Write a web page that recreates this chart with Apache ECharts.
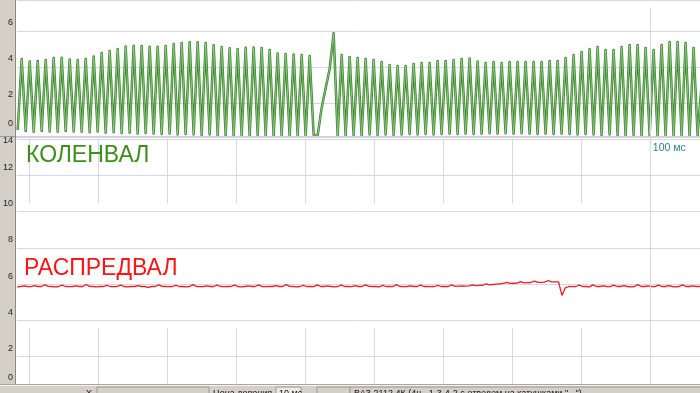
<!DOCTYPE html>
<html><head><meta charset="utf-8">
<script src="https://cdn.jsdelivr.net/npm/echarts@6/dist/echarts.min.js"></script>
<style>html,body{margin:0;padding:0;background:#fff}#c{width:700px;height:393px}</style>
</head><body><div id="c"></div>
<script>
// ---- data ----
const crankStartMs = 8.32;   // time of first crank sample
const crankStepMs = 0.58;    // sample spacing (half tooth period)
const crankValues = [
  0.5,
  4.44,0.45, 4.31,0.40, 4.33,0.45, 4.39,0.42, 4.50,0.40, 4.52,0.45, 4.42,0.42, 4.39,0.40, 4.44,0.38, 4.58,0.42,
  4.78,0.35, 4.89,0.38, 5.00,0.33, 5.14,0.35, 5.18,0.30, 5.16,0.33, 5.13,0.30, 5.13,0.28, 5.17,0.30, 5.28,0.25,
  5.34,0.28, 5.37,0.25, 5.37,0.22, 5.33,0.25, 5.21,0.20, 5.11,0.22, 5.04,0.20, 5.00,0.18, 5.07,0.20, 5.08,0.22,
  5.06,0.18, 4.94,0.20, 4.75,0.18, 4.72,0.15, 4.69,0.18, 4.67,0.15,
  4.61,
  0.22, 0.20, 1.73, 2.82, 3.89, 5.87, 0.20,
  4.67,0.20, 4.56,0.22, 4.50,0.20, 4.44,0.25, 4.39,0.22, 4.28,0.25, 4.11,0.22, 4.06,0.25, 4.06,0.28, 4.17,0.25,
  4.22,0.28, 4.22,0.25, 4.33,0.28, 4.33,0.30, 4.39,0.28, 4.44,0.30, 4.47,0.28, 4.31,0.30, 4.22,0.32, 4.28,0.30,
  4.22,0.32, 4.28,0.30, 4.28,0.32, 4.28,0.30, 4.28,0.28, 4.28,0.30, 4.33,0.28, 4.33,0.30, 4.50,0.28, 4.67,0.25,
  4.83,0.28, 5.00,0.25, 5.11,0.22, 4.94,0.25, 4.94,0.22, 5.11,0.20, 5.22,0.22, 5.22,0.20, 5.06,0.22, 4.94,0.20,
  5.22,0.18, 5.39,0.20, 5.39,0.18, 5.33,0.20, 5.06,
  0.22, 3.0
];
const camStartMs = 8.25;
const camStepMs = 0.5;
const camValues = [
  5.85,5.87,5.90,5.87,5.86,5.92,5.87,5.87,5.96,5.88,5.87,5.85,5.87,5.94,5.87,5.86,5.87,5.90,5.87,5.87,
  5.98,5.88,5.87,5.85,5.87,5.87,5.93,5.87,5.86,5.87,5.95,5.87,5.85,5.87,5.87,5.92,5.87,5.87,5.82,5.87,
  5.87,5.96,5.88,5.87,5.86,5.87,5.93,5.87,5.87,5.85,5.87,5.97,5.87,5.86,5.87,5.90,5.87,5.87,5.94,5.87,
  5.86,5.87,5.87,5.95,5.87,5.85,5.87,5.90,5.87,5.87,5.96,5.87,5.86,5.87,5.87,5.92,5.87,5.87,5.97,5.88,
  5.87,5.85,5.87,5.93,5.87,5.87,5.86,5.96,5.87,5.87,5.90,5.87,5.85,5.87,5.95,5.87,5.87,5.86,5.92,5.87,
  5.87,5.96,5.88,5.87,5.87,5.85,5.93,5.87,5.87,5.87,5.97,5.87,5.86,5.87,5.91,5.87,5.87,5.95,5.87,5.87,
  5.86,5.87,5.93,5.87,5.88,5.87,5.96,5.88,5.89,5.90,5.89,5.90,5.96,5.92,5.93,5.94,6.02,5.96,5.98,6.00,
  6.02,6.04,6.10,6.04,6.05,6.06,6.14,6.07,6.08,6.09,6.17,6.10,6.10,6.11,6.20,6.12,6.13,6.13,5.38,5.80,
  5.87,5.86,5.87,5.94,5.87,5.87,5.85,5.96,5.87,5.87,5.90,5.87,5.86,5.95,5.87,5.87,5.92,5.87,5.85,5.87,
  5.97,5.87,5.87,5.90,5.87,5.86,5.95,5.87,5.87,5.92,5.87,5.85,5.87,5.96,5.87,5.87,5.90,5.87,5.87
];
const crankTicks = [0, 2, 4, 6];
const camTicks = [0, 2, 4, 6, 8, 10, 12, 14];
const gridTimesMs = [10, 20, 30, 40, 50, 60, 70, 80, 90, 100];
const markerTimeMs = 100;
const markerText = '100 мс';
const crankName = 'КОЛЕНВАЛ';
const camName = 'РАСПРЕДВАЛ';
const statusX = 'Х';
const statusScaleLabel = 'Цена деления';
const statusScaleValue = '10 мс';
const statusProfile = 'ВАЗ 2112 4К (4ц., 1-3-4-2 с отводом на катушками "...")';

// ---- chart ----
const crankData = crankValues.map((v, i) => [crankStartMs + i * crankStepMs, v]);
const camData = camValues.map((v, j) => [camStartMs + j * camStepMs, v]);
const T0 = 8.22, T1 = 107.27;
const gridCol = '#d6d6ea';
const FONT = '"Liberation Sans", Arial, sans-serif';

function labelFmt(top, bottom) {
  return function (v) {
    if (v === top) return '{t|' + v + '}';
    if (v === bottom) return '{z|' + v + '}';
    return '{n|' + v + '}';
  };
}
const labRich = {
  n: { fontSize: 9, color: '#222', fontFamily: FONT, padding: [0, 0, 16, 0] },
  z: { fontSize: 9, color: '#222', fontFamily: FONT, padding: [0, 0, 30, 0] },
  t: { fontSize: 9, color: '#222', fontFamily: FONT, padding: [3, 0, 0, 0] }
};

const camVSeg = gridTimesMs.flatMap(t => t === markerTimeMs
  ? [[{ coord: [t, 14] }, { coord: [t, 0] }]]
  : [[{ coord: [t, 14] }, { coord: [t, 10.47] }], [{ coord: [t, 3.58] }, { coord: [t, 0] }]]);

const chart = echarts.init(document.getElementById('c'), null, { renderer: 'canvas' });
chart.setOption({
  animation: false,
  backgroundColor: '#ffffff',
  grid: [
    { left: 17, right: 0, top: 0, height: 139 },
    { left: 17, right: 0, top: 139, bottom: 0 }
  ],
  xAxis: [
    { gridIndex: 0, type: 'value', min: T0, max: T1, show: false },
    { gridIndex: 1, type: 'value', min: T0, max: T1, show: false }
  ],
  yAxis: [
    {
      gridIndex: 0, type: 'value', min: 0, max: 139 / 18, interval: 2,
      axisLine: { show: false }, axisTick: { show: false },
      axisLabel: { margin: 4, showMaxLabel: false, formatter: labelFmt(null, crankTicks[0]), rich: labRich },
      splitLine: { lineStyle: { color: gridCol, width: 1 } }
    },
    {
      gridIndex: 1, type: 'value', min: 0, max: 14, interval: 2,
      axisLine: { show: false }, axisTick: { show: false },
      axisLabel: { margin: 4, formatter: labelFmt(camTicks[camTicks.length - 1], camTicks[0]), rich: labRich },
      splitLine: { lineStyle: { color: gridCol, width: 1 } }
    }
  ],
  series: [
    {
      type: 'line', xAxisIndex: 0, yAxisIndex: 0, data: [], z: 1, silent: true,
      markLine: {
        silent: true, symbol: ['none', 'none'], label: { show: false },
        lineStyle: { color: gridCol, width: 1, type: 'solid' },
        data: [[{ coord: [markerTimeMs, 7.28] }, { coord: [markerTimeMs, 0] }]]
      }
    },
    {
      type: 'line', xAxisIndex: 1, yAxisIndex: 1, data: [], z: 1, silent: true,
      markLine: {
        silent: true, symbol: ['none', 'none'], label: { show: false },
        lineStyle: { color: gridCol, width: 1, type: 'solid' },
        data: camVSeg
      },
      markPoint: {
        silent: true, symbol: 'circle', symbolSize: 0,
        itemStyle: { color: 'transparent' },
        label: { show: true, position: 'right', distance: 3, formatter: markerText, color: '#2f7f8c', fontSize: 10.5, fontFamily: FONT },
        data: [{ coord: [markerTimeMs, 13.5] }]
      }
    },
    {
      name: crankName, type: 'line', xAxisIndex: 0, yAxisIndex: 0, data: crankData, z: 3,
      showSymbol: false, silent: true,
      lineStyle: { color: '#37862a', width: 2.5, join: 'round' }
    },
    {
      name: crankName + ' ', type: 'line', xAxisIndex: 0, yAxisIndex: 0, data: crankData, z: 4,
      showSymbol: false, silent: true,
      lineStyle: { color: '#a3d195', width: 0.8, join: 'round' }
    },
    {
      name: camName, type: 'line', xAxisIndex: 1, yAxisIndex: 1, data: camData, z: 3,
      showSymbol: false, silent: true,
      lineStyle: { color: '#ee1c1c', width: 1.3 }
    }
  ],
  graphic: [
    { type: 'rect', z: -1, shape: { x: 0, y: 0, width: 15, height: 385 }, style: { fill: '#d4d0c8' } },
    { type: 'line', z: -1, shape: { x1: 15.5, y1: 0, x2: 15.5, y2: 385 }, style: { stroke: '#8c8a86', lineWidth: 1 } },
    { type: 'rect', z: 10, shape: { x: 16, y: 136, width: 684, height: 2 }, style: { fill: '#d2d1dc' } },
    { type: 'line', z: -1, shape: { x1: 0, y1: 136.5, x2: 15, y2: 136.5 }, style: { stroke: '#9a9892', lineWidth: 1 } },
    { type: 'text', z: 20, x: 26, y: 156, style: { text: crankName, fill: '#3e8e1e', font: '23px ' + FONT, verticalAlign: 'middle' } },
    { type: 'text', z: 20, x: 24, y: 269, style: { text: camName, fill: '#ff1414', font: '23px ' + FONT, verticalAlign: 'middle' } },
    // status bar
    { type: 'rect', z: 100, shape: { x: 0, y: 385, width: 700, height: 8 }, style: { fill: '#d4d0c8' } },
    { type: 'line', z: 101, shape: { x1: 0, y1: 385.5, x2: 700, y2: 385.5 }, style: { stroke: '#f4f3f0', lineWidth: 1 } },
    { type: 'line', z: 101, shape: { x1: 0, y1: 384.5, x2: 700, y2: 384.5 }, style: { stroke: '#a8a6a0', lineWidth: 1 } },
    { type: 'rect', z: 101, shape: { x: 97, y: 387, width: 112, height: 8 }, style: { fill: '#d4d0c8', stroke: '#9d9b95', lineWidth: 1 } },
    { type: 'rect', z: 101, shape: { x: 276, y: 387, width: 25, height: 8 }, style: { fill: '#ece9e2', stroke: '#9d9b95', lineWidth: 1 } },
    { type: 'rect', z: 101, shape: { x: 317, y: 387, width: 33, height: 8 }, style: { fill: '#d4d0c8', stroke: '#9d9b95', lineWidth: 1 } },
    { type: 'rect', z: 101, shape: { x: 350, y: 387, width: 352, height: 8 }, style: { fill: '#d4d0c8', stroke: '#9d9b95', lineWidth: 1 } },
    { type: 'text', z: 102, x: 86, y: 394, style: { text: statusX, fill: '#111', font: '9px ' + FONT, verticalAlign: 'middle' } },
    { type: 'text', z: 102, x: 213, y: 394, style: { text: statusScaleLabel, fill: '#111', font: '9px ' + FONT, verticalAlign: 'middle' } },
    { type: 'text', z: 102, x: 279, y: 394, style: { text: statusScaleValue, fill: '#111', font: '9px ' + FONT, verticalAlign: 'middle' } },
    { type: 'text', z: 102, x: 354, y: 394, style: { text: statusProfile, fill: '#111', font: '9px ' + FONT, verticalAlign: 'middle' } }
  ]
});
</script></body></html>
